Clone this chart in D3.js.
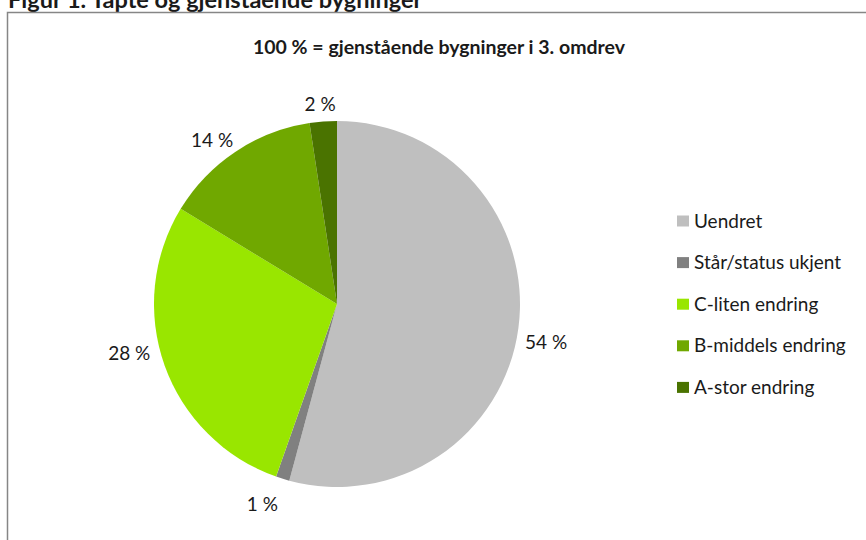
<!DOCTYPE html>
<html>
<head>
<meta charset="utf-8">
<script src="https://cdn.jsdelivr.net/npm/d3@7"></script>
<style>
  body { margin: 0; background: #fff; }
  text { font-family: Lato, "Open Sans", sans-serif; fill: #1a1a1a; }
</style>
</head>
<body>
<div id="chart"></div>
<script>
// The svg
var width = 866;
var height = 540;

// data
var categories = ["Uendret", "Står/status ukjent", "C-liten endring", "B-middels endring", "A-stor endring"];
var values = [54.2, 1.2, 28.3, 13.9, 2.4];
var labels = ["54 %", "1 %", "28 %", "14 %", "2 %"];
var colors = ["#bfbfbf", "#808080", "#99e600", "#70a800", "#4a7300"];

// small hand nudges so the labels sit where Excel put them
var labelNudge = [[0, 11], [-12, -1], [-9, -22], [-8, 12], [-1, 11]];

var svg = d3.select("#chart")
    .append("svg")
    .attr("width", width)
    .attr("height", height);

// figure caption, cut off at the top like in the original
svg.append("text")
    .attr("x", 8)
    .attr("y", 8)
    .style("font-weight", "bold")
    .style("font-size", "23.5px")
    .text("Figur 1. Tapte og gjenstående bygninger");

// chart frame
svg.append("rect")
    .attr("x", 7.5)
    .attr("y", 12.5)
    .attr("width", 870)
    .attr("height", 540)
    .attr("fill", "none")
    .attr("stroke", "#868686")
    .attr("stroke-width", 1.5);

// chart title
svg.append("text")
    .attr("x", 439)
    .attr("y", 54)
    .attr("text-anchor", "middle")
    .style("font-weight", "bold")
    .style("font-size", "19.5px")
    .text("100 % = gjenstående bygninger i 3. omdrev");

// pie
var cx = 337, cy = 304, r = 183;
var data = categories.map(function (c, i) {
    return { name: c, value: values[i], label: labels[i], color: colors[i], nudge: labelNudge[i] };
});

var pie = d3.pie().sort(null).value(function (d) { return d.value; });
var arc = d3.arc().innerRadius(0).outerRadius(r);
var labelArc = d3.arc().innerRadius(r + 28).outerRadius(r + 28);

var g = svg.append("g").attr("transform", "translate(" + cx + "," + cy + ")");
var arcs = pie(data);

g.selectAll("path")
    .data(arcs)
    .enter()
    .append("path")
    .attr("d", arc)
    .attr("fill", function (d) { return d.data.color; });

g.selectAll("text.lbl")
    .data(arcs)
    .enter()
    .append("text")
    .attr("class", "lbl")
    .attr("transform", function (d) {
        var c = labelArc.centroid(d);
        return "translate(" + (c[0] + d.data.nudge[0]) + "," + (c[1] + d.data.nudge[1]) + ")";
    })
    .attr("text-anchor", "middle")
    .attr("dy", "0.35em")
    .style("font-size", "19px")
    .text(function (d) { return d.data.label; });

// legend
var legend = svg.append("g").attr("transform", "translate(677,221)");
var item = legend.selectAll("g")
    .data(data)
    .enter()
    .append("g")
    .attr("transform", function (d, i) { return "translate(0," + (i * 41.6) + ")"; });

item.append("rect")
    .attr("x", 0)
    .attr("y", -5.5)
    .attr("width", 12)
    .attr("height", 11)
    .attr("fill", function (d) { return d.color; });

item.append("text")
    .attr("x", 17)
    .attr("dy", "0.35em")
    .style("font-size", "19px")
    .text(function (d) { return d.name; });
</script>
</body>
</html>
